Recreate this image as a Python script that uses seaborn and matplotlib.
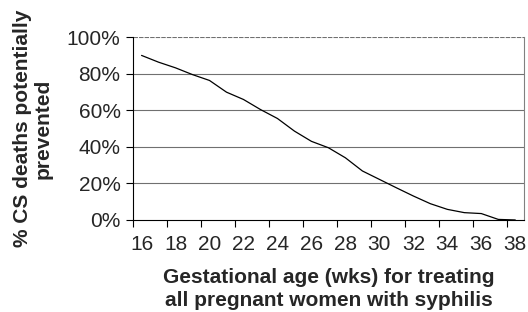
import numpy as np
import pandas as pd
import seaborn as sns
from matplotlib import pyplot as plt
from matplotlib.ticker import FixedLocator, PercentFormatter

# Values
weeks = list(range(16, 39))
prevented = [0.900, 0.863, 0.832, 0.795, 0.763, 0.699, 0.659, 0.604, 0.555, 0.486,
             0.430, 0.395, 0.340, 0.268, 0.222, 0.176, 0.131, 0.089, 0.058, 0.040,
             0.035, 0.003, 0.0]
y_ticks = [0, 0.2, 0.4, 0.6, 0.8, 1.0]
x_labels = list(range(16, 39, 2))

df = pd.DataFrame({"week": weeks, "prevented": prevented})

sns.set_style("white")
plt.rcParams['font.family'] = ['Liberation Sans', 'DejaVu Sans']

fig = plt.figure(figsize=(5.28, 3.12), dpi=100)
ax = fig.add_axes([0.252, 0.295, 0.740, 0.586])

# Horizontal gridlines
for v in y_ticks[1:]:
    ax.axhline(v, color="#707070", lw=0.8, zorder=0,
               ls=(0, (4, 1)) if v == 1.0 else "-")

sns.lineplot(data=df, x="week", y="prevented", ax=ax, color="black", lw=0.9)

ax.set_xlim(15.5, 38.5)
ax.set_ylim(0, 1.0)

ax.set_yticks(y_ticks)
ax.yaxis.set_major_formatter(PercentFormatter(1.0, decimals=0))
ax.set_xticks(x_labels)
ax.set_xticklabels([str(x) for x in x_labels])
ax.xaxis.set_minor_locator(FixedLocator(np.arange(15.5, 39, 2)))

ax.tick_params(axis="x", which="major", length=0, labelsize=15, pad=11)
ax.tick_params(axis="x", which="minor", length=5, width=0.8, color="black", bottom=True)
ax.tick_params(axis="y", which="major", length=5, width=0.8, color="black", left=True, labelsize=15, pad=4)

ax.spines["top"].set_visible(False)
ax.spines["right"].set_color("#808080")
ax.spines["right"].set_linestyle((0, (3, 1)))
ax.spines["right"].set_linewidth(0.8)
ax.spines["left"].set_color("black")
ax.spines["left"].set_linewidth(0.8)
ax.spines["bottom"].set_color("black")
ax.spines["bottom"].set_linewidth(0.8)

ax.set_xlabel("Gestational age (wks) for treating\nall pregnant women with syphilis",
              fontsize=15, fontweight="bold", labelpad=10, linespacing=1.25)
ax.set_ylabel("% CS deaths potentially\nprevented", fontsize=15, fontweight="bold",
              labelpad=10, linespacing=1.1)

fig.savefig("out.png", dpi=100)
